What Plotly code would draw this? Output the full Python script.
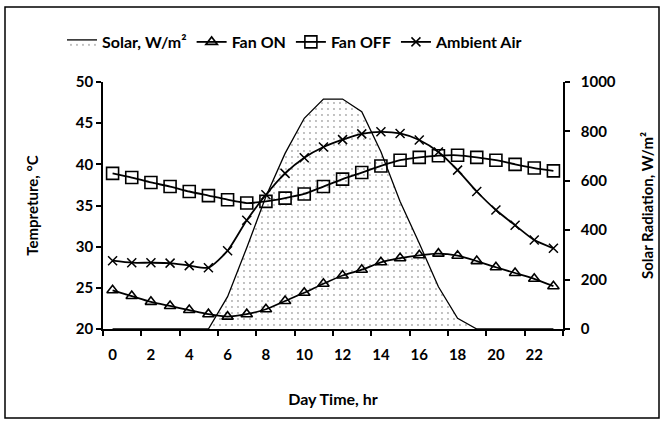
import plotly.graph_objects as go

# ---------------------------------------------------------------------------
# Data
# ---------------------------------------------------------------------------
hours = list(range(24))
solar = [0, 0, 0, 0, 0, 0, 131, 329, 536, 711, 853, 931,
         931, 880, 718, 516, 347, 171, 43, 0, 0, 0, 0, 0]
fan_on = [24.7, 24.0, 23.3, 22.8, 22.3, 21.8, 21.5, 21.8, 22.4, 23.4, 24.4, 25.5,
          26.5, 27.2, 28.1, 28.6, 28.95, 29.15, 28.9, 28.25, 27.5, 26.8, 26.1, 25.2]
fan_off = [38.9, 38.4, 37.8, 37.3, 36.7, 36.2, 35.7, 35.3, 35.5, 35.9, 36.4, 37.3,
           38.2, 39.0, 39.8, 40.5, 40.85, 41.05, 41.1, 40.85, 40.5, 40.0, 39.55, 39.2]
ambient = [28.3, 28.05, 28.05, 28.0, 27.7, 27.45, 29.5, 33.2, 36.3, 38.9, 40.8, 42.1,
           43.0, 43.7, 43.95, 43.75, 42.95, 41.5, 39.3, 36.7, 34.45, 32.6, 30.8, 29.8]
x_labels = [str(h) for h in range(0, 24, 2)]

FONT = "Lato, 'Open Sans', sans-serif"
W, H = 663, 422
L, R, T, B = 103, 100, 82, 93
PW, PH = W - L - R, H - T - B

fig = go.Figure()

# solar area on the primary (right-side) axis so it sits under the lines
fig.add_trace(go.Scatter(
    x=hours, y=solar, name="Solar, W/m²", mode="lines",
    line=dict(color="black", width=1.3),
    fill="tozeroy", fillcolor="white",
    fillpattern=dict(shape=".", fgcolor="#555555", bgcolor="white",
                     size=6, solidity=0.08),
    yaxis="y",
))

line_style = dict(color="black", width=1.8, shape="spline", smoothing=0.6)

fig.add_trace(go.Scatter(
    x=hours, y=fan_on, name="Fan ON", mode="lines+markers",
    line=line_style,
    marker=dict(symbol="triangle-up-open", size=10, color="black",
                line=dict(width=1.6)),
    yaxis="y2",
))
fig.add_trace(go.Scatter(
    x=hours, y=fan_off, name="Fan OFF", mode="lines+markers",
    line=line_style,
    marker=dict(symbol="square-open", size=12, color="black",
                line=dict(width=1.6)),
    yaxis="y2",
))
fig.add_trace(go.Scatter(
    x=hours, y=ambient, name="Ambient Air", mode="lines+markers",
    line=line_style,
    marker=dict(symbol="x-thin-open", size=9, color="black",
                line=dict(width=1.5)),
    yaxis="y2",
))

tick_font = dict(family=FONT, size=15, color="black", weight="bold")
title_font = dict(family=FONT, size=15, color="black", weight="bold")

fig.update_layout(
    width=W, height=H,
    paper_bgcolor="white", plot_bgcolor="white",
    margin=dict(l=L, r=R, t=T, b=B),
    font=dict(family=FONT, color="black"),
    showlegend=True,
    legend=dict(
        orientation="h", x=(62 - L) / PW, y=(H - B - 42) / PH,
        xanchor="left", yanchor="middle",
        font=dict(family=FONT, size=16, color="black", weight="bold"),
        bgcolor="rgba(0,0,0,0)", itemwidth=30, tracegroupgap=0,
    ),
    xaxis=dict(
        range=[-0.5, 23.5], showgrid=False, zeroline=False,
        showline=True, linecolor="black", linewidth=1.5,
        tickvals=list(range(0, 24, 2)), ticktext=x_labels, ticks="",
        ticklabelstandoff=11, tickfont=tick_font,
        minor=dict(tickvals=[v - 0.5 for v in range(0, 25, 2)],
                   ticks="outside", ticklen=5, tickcolor="black", tickwidth=1.5),
        title=dict(text="Day Time, hr", font=dict(title_font, size=16), standoff=32),
    ),
    yaxis=dict(
        range=[0, 1000], dtick=200, side="right", showgrid=False, zeroline=False,
        showline=True, linecolor="black", linewidth=1.5,
        ticks="outside", ticklen=5, tickwidth=1.5, tickcolor="black",
        tickfont=tick_font, automargin=False, ticklabelstandoff=8,
        title=dict(text="Solar Radiation, W/m²", font=title_font, standoff=28),
    ),
    yaxis2=dict(
        range=[20, 50], dtick=5, side="left", overlaying="y", showgrid=False,
        zeroline=False, showline=True, linecolor="black", linewidth=1.5,
        ticks="outside", ticklen=5, tickwidth=1.5, tickcolor="black",
        tickfont=tick_font, automargin=False,
        title=dict(text="Tempreture, °C", font=title_font, standoff=34),
    ),
)

# outer frame around the whole chart
fig.add_shape(
    type="rect", xref="paper", yref="paper",
    x0=(5 - L) / PW, x1=(659 - L) / PW,
    y0=(H - B - 418) / PH, y1=(H - B - 7) / PH,
    line=dict(color="black", width=1.5), fillcolor="rgba(0,0,0,0)", layer="below",
)

# drop the browser's default body margin so the figure sits at the page origin
fig.write_html("out.html", config={"displayModeBar": False},
               post_script="document.body.style.margin='0';")
